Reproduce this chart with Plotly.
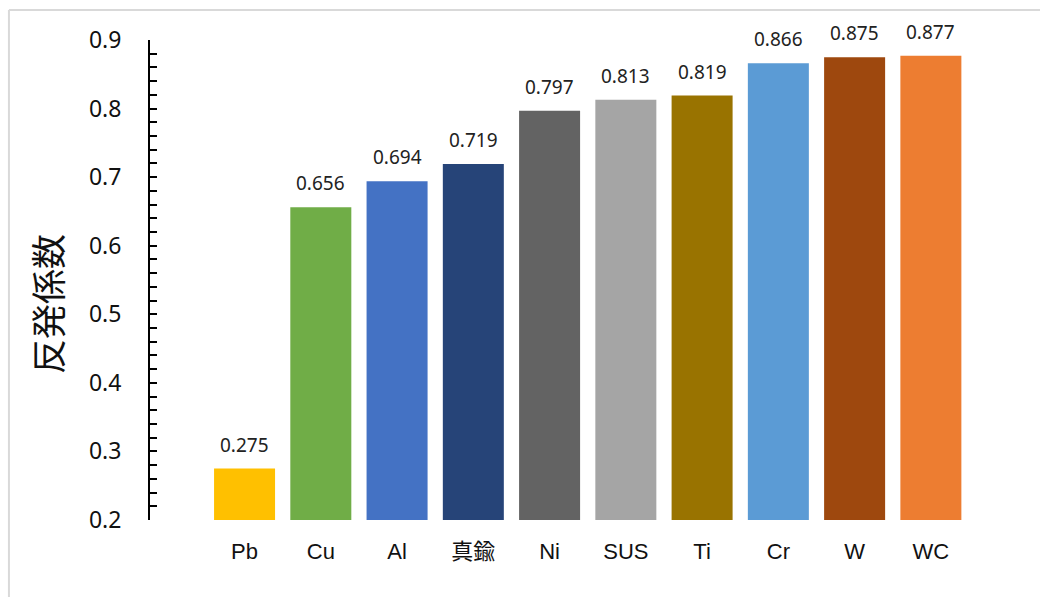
import plotly.graph_objects as go

categories = ["Pb", "Cu", "Al", "真鍮", "Ni", "SUS", "Ti", "Cr", "W", "WC"]
values = [0.275, 0.656, 0.694, 0.719, 0.797, 0.813, 0.819, 0.866, 0.875, 0.877]
value_labels = ["0.275", "0.656", "0.694", "0.719", "0.797", "0.813", "0.819", "0.866", "0.875", "0.877"]
colors = ["#FFC000", "#70AD47", "#4472C4", "#264478", "#636363",
          "#A5A5A5", "#997300", "#5B9BD5", "#9E480E", "#ED7D31"]
y_title = "反発係数"
y_ticks = [0.2, 0.3, 0.4, 0.5, 0.6, 0.7, 0.8, 0.9]

W, H = 1040, 597
L, R, T, B = 150, 968.6, 40, 520

def px_x(p):
    return (p - L) / (R - L)

def px_y(p):
    return (B - p) / (B - T)

fig = go.Figure()
fig.add_trace(go.Bar(
    x=list(range(len(categories))), y=values,
    marker=dict(color=colors, line=dict(width=0)),
    base=0,
    hoverinfo="skip",
))

for i, (v, t) in enumerate(zip(values, value_labels)):
    fig.add_annotation(x=i, y=v, text=t, showarrow=False, yanchor="bottom",
                       yshift=9, font=dict(family="Noto Sans, Open Sans, sans-serif",
                                           size=19, color="#222222"))

fig.add_annotation(x=px_x(46), y=px_y(304), xref="paper", yref="paper",
                   xanchor="center", yanchor="middle",
                   text=y_title, textangle=-90, showarrow=False,
                   font=dict(family="Noto Sans CJK JP", size=35, color="#111111"))

# chart frame (light gray)
fig.add_shape(type="line", xref="paper", yref="paper",
              x0=px_x(9), x1=px_x(9), y0=px_y(10), y1=px_y(620),
              line=dict(color="#D9D9D9", width=2))
fig.add_shape(type="line", xref="paper", yref="paper",
              x0=px_x(9), x1=px_x(1060), y0=px_y(10), y1=px_y(10),
              line=dict(color="#D9D9D9", width=2))

fig.update_layout(
    width=W, height=H, autosize=False,
    margin=dict(l=L, r=W - R, t=T, b=H - B, pad=0),
    paper_bgcolor="white", plot_bgcolor="white",
    bargap=0.2, showlegend=False,
)
fig.update_xaxes(
    range=[-1.24, 9.5],
    tickmode="array", tickvals=list(range(len(categories))), ticktext=categories,
    showline=False, showgrid=False, zeroline=False, ticks="",
    ticklabelstandoff=16,
    tickfont=dict(family="Liberation Sans, Noto Sans CJK JP", size=22, color="#111111"),
)
fig.update_yaxes(
    range=[0.2, 0.9],
    tickmode="array", tickvals=y_ticks, ticktext=[f"{v:.1f}" for v in y_ticks],
    showline=True, linecolor="black", linewidth=2,
    ticks="inside", ticklen=7, tickwidth=2, tickcolor="black",
    minor=dict(ticks="inside", ticklen=7, tickwidth=2, tickcolor="black", dtick=0.02, tick0=0.2, showgrid=False),
    showgrid=False, zeroline=False,
    ticklabelstandoff=22,
    tickfont=dict(family="Noto Sans, Open Sans, sans-serif", size=23, color="#111111"),
)

fig.write_html("out.html")
